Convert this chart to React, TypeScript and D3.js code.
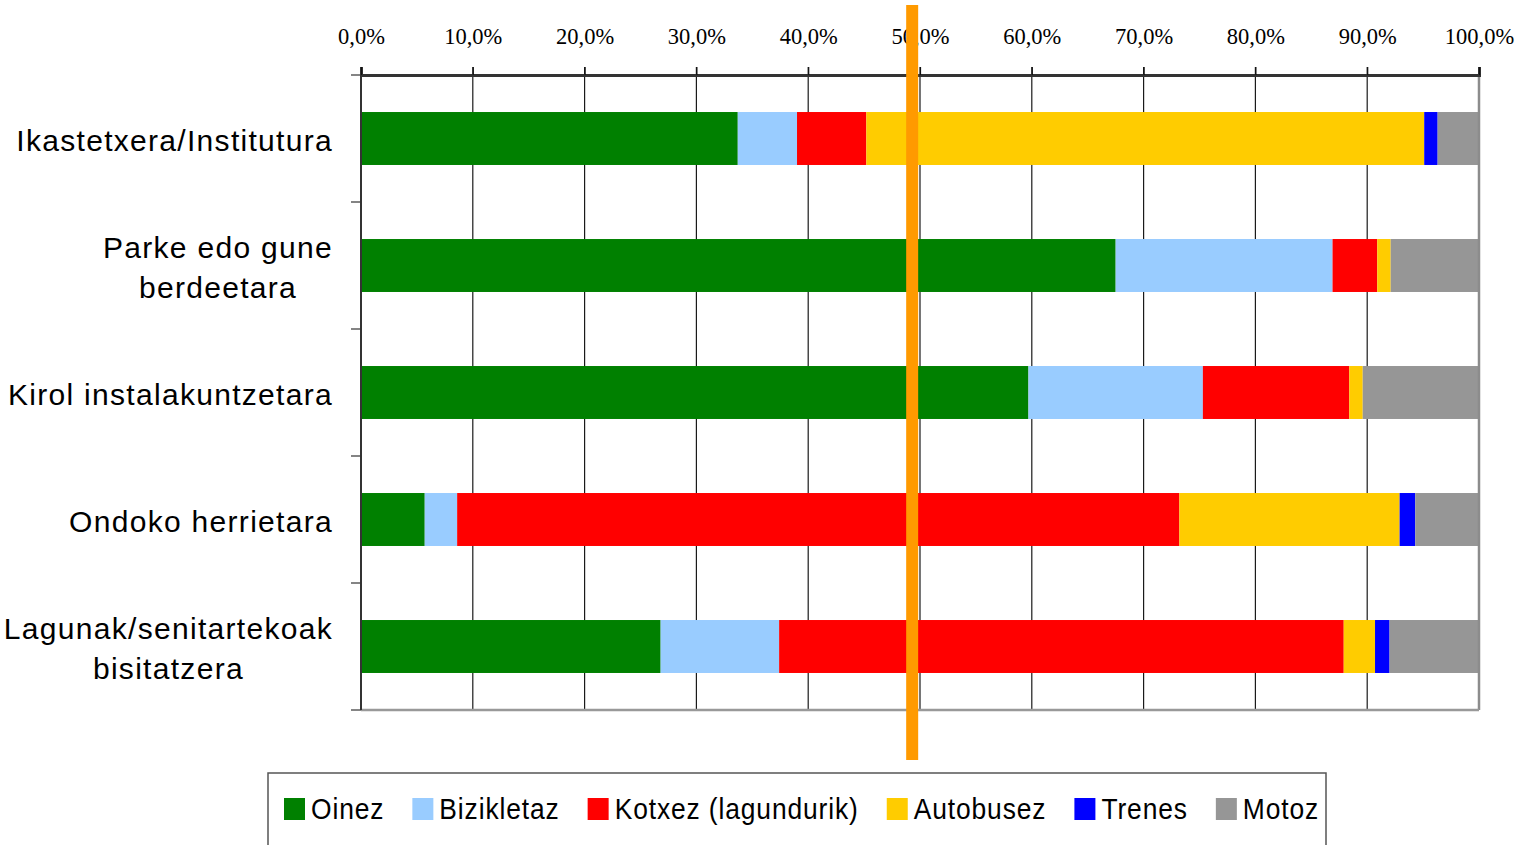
import React, { useEffect, useRef } from "react";
import * as d3 from "d3";

// destinations (each label split into its lines)
const categories = [
  ["Ikastetxera/Institutura"],
  ["Parke edo gune", "berdeetara"],
  ["Kirol instalakuntzetara"],
  ["Ondoko herrietara "],
  ["Lagunak/senitartekoak", "bisitatzera"],
];

const seriesNames = ["Oinez", "Bizikletaz", "Kotxez (lagundurik)", "Autobusez", "Trenes", "Motoz"];
const seriesColors = ["#008000", "#99CCFF", "#FF0000", "#FFCC00", "#0000FF", "#969696"];

// percentage per destination, one array per mode
const oinez = [33.7, 67.5, 59.7, 5.7, 26.8];
const bizikletaz = [5.3, 19.4, 15.6, 2.9, 10.6];
const kotxez = [6.2, 4.0, 13.1, 64.6, 50.5];
const autobusez = [49.9, 1.2, 1.2, 19.7, 2.8];
const trenes = [1.2, 0.0, 0.0, 1.4, 1.3];
const motoz = [3.7, 7.9, 10.4, 5.7, 8.0];

const xTicks = [0, 10, 20, 30, 40, 50, 60, 70, 80, 90, 100];
const markerValue = 49.3; // the orange highlight line

const App = () => {
  const chartRef = useRef(null);

  useEffect(() => {
    const svg = d3.select(chartRef.current);
    svg.selectAll("*").remove();

    const width = 1530;
    const height = 845;
    const margin = { top: 75, right: 50, bottom: 135, left: 361 };

    const series = [oinez, bizikletaz, kotxez, autobusez, trenes, motoz];
    const rows = categories.map((c, i) => {
      const r = { key: i };
      seriesNames.forEach((s, j) => (r[s] = series[j][i]));
      return r;
    });

    const x = d3
      .scaleLinear()
      .domain([0, 100])
      .range([margin.left, width - margin.right - 1]);

    const y = d3
      .scaleBand()
      .domain(categories.map((c, i) => i))
      .range([margin.top, height - margin.bottom])
      .paddingInner(0.583)
      .paddingOuter(0.2915);

    const bandStep = y.step();
    const top = margin.top;
    const bottom = height - margin.bottom;

    // vertical gridlines
    svg
      .append("g")
      .selectAll("line")
      .data(xTicks.slice(1, -1))
      .join("line")
      .attr("x1", (d) => x(d))
      .attr("x2", (d) => x(d))
      .attr("y1", top - 8)
      .attr("y2", bottom)
      .attr("stroke", "#1a1a1a")
      .attr("stroke-width", 1.2);

    // stacked bars
    const stack = d3.stack().keys(seriesNames)(rows);
    svg
      .append("g")
      .selectAll("g")
      .data(stack)
      .join("g")
      .attr("fill", (d, i) => seriesColors[i])
      .selectAll("rect")
      .data((d) => d)
      .join("rect")
      .attr("x", (d) => x(d[0]))
      .attr("y", (d) => y(d.data.key))
      .attr("width", (d) => Math.max(0, x(d[1]) - x(d[0])))
      .attr("height", y.bandwidth());

    // frame: right and bottom in grey
    svg
      .append("line")
      .attr("x1", x(100))
      .attr("x2", x(100))
      .attr("y1", top)
      .attr("y2", bottom)
      .attr("stroke", "#8c8c8c")
      .attr("stroke-width", 2.5);
    svg
      .append("line")
      .attr("x1", x(0))
      .attr("x2", x(100))
      .attr("y1", bottom)
      .attr("y2", bottom)
      .attr("stroke", "#999")
      .attr("stroke-width", 2.5);

    // left axis with category ticks
    svg
      .append("line")
      .attr("x1", x(0))
      .attr("x2", x(0))
      .attr("y1", top)
      .attr("y2", bottom)
      .attr("stroke", "#333")
      .attr("stroke-width", 2);
    svg
      .append("g")
      .selectAll("line")
      .data(d3.range(categories.length + 1))
      .join("line")
      .attr("x1", x(0) - 10)
      .attr("x2", x(0))
      .attr("y1", (d) => top + d * bandStep)
      .attr("y2", (d) => top + d * bandStep)
      .attr("stroke", "#333")
      .attr("stroke-width", 1.2);

    // top axis
    const axisTop = d3
      .axisTop(x)
      .tickValues(xTicks)
      .tickSize(8)
      .tickPadding(23)
      .tickFormat((d) => d3.format(".1f")(d).replace(".", ",") + "%");
    const ax = svg.append("g").attr("transform", `translate(0, ${top})`).call(axisTop);
    ax.select(".domain").attr("stroke", "#333").attr("stroke-width", 3);
    ax.selectAll(".tick line").attr("stroke", "#111").attr("stroke-width", 1.2);
    ax.selectAll(".tick text")
      .attr("fill", "#000")
      .style("font-family", "'Liberation Serif', 'DejaVu Serif', serif")
      .style("font-size", "22.5px");

    // category labels, each block centred with right edge at 333
    const labelRight = 333;
    const lineGap = 40;
    categories.forEach((lines, i) => {
      const cy = y(i) + y.bandwidth() / 2;
      const g = svg.append("g");
      const texts = lines.map((l, k) =>
        g
          .append("text")
          .attr("y", cy + 12 + (k - (lines.length - 1) / 2) * lineGap)
          .attr("text-anchor", "middle")
          .style("font-family", "'Liberation Sans', Arial, sans-serif")
          .style("font-size", "30px")
          .style("letter-spacing", "1.3px")
          .attr("fill", "#000")
          .text(l)
      );
      const w = d3.max(texts, (t) => t.node().getComputedTextLength());
      texts.forEach((t) => t.attr("x", labelRight - w / 2));
    });

    // orange highlight line
    svg
      .append("rect")
      .attr("x", x(markerValue) - 6)
      .attr("y", 5)
      .attr("width", 12)
      .attr("height", 755)
      .attr("fill", "#FF9A00");

    // legend
    const legendTop = 773;
    svg
      .append("rect")
      .attr("x", 268)
      .attr("y", legendTop)
      .attr("width", 1058)
      .attr("height", 100)
      .attr("fill", "#fff")
      .attr("stroke", "#555")
      .attr("stroke-width", 1.5);
    const squeeze = 0.88;
    let lx = 284;
    seriesNames.forEach((s, i) => {
      svg
        .append("rect")
        .attr("x", lx)
        .attr("y", legendTop + 25)
        .attr("width", 21)
        .attr("height", 22)
        .attr("fill", seriesColors[i]);
      const t = svg
        .append("text")
        .attr("transform", `translate(${lx + 27}, ${legendTop + 46}) scale(${squeeze}, 1)`)
        .style("font-family", "'Liberation Sans', Arial, sans-serif")
        .style("font-size", "30px")
        .style("letter-spacing", "1px")
        .attr("fill", "#000")
        .text(s);
      lx += 27 + t.node().getComputedTextLength() * squeeze + 28;
    });
  }, []);

  return (
    <svg
      ref={chartRef}
      width="1530"
      height="845"
      style={{ position: "absolute", left: 0, top: 0, background: "#fff" }}
    ></svg>
  );
};

export default App;
